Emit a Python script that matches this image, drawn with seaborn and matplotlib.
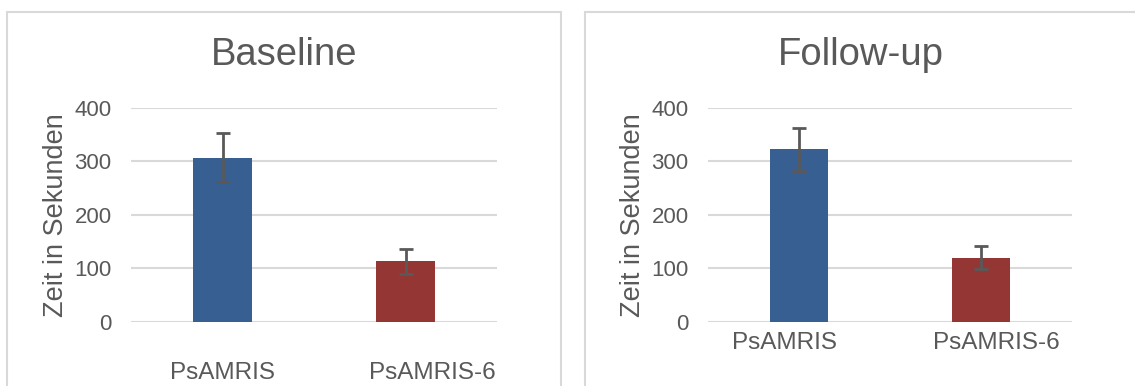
import numpy as np
import pandas as pd
import matplotlib
matplotlib.use("Agg")
import matplotlib.pyplot as plt
import matplotlib.transforms as mtransforms
from matplotlib.patches import Rectangle
import seaborn as sns

# Chart data
groups = ["PsAMRIS", "PsAMRIS-6"]
baseline_mean = [307, 113]
baseline_err = [45, 24]
followup_mean = [322, 120]
followup_err = [40, 21]
panel_titles = ["Baseline", "Follow-up"]

bar_colors = ["#375F92", "#943634"]
grey_txt = "#595959"
grid_col = "#D9D9D9"

sns.set_theme(style="white")
plt.rcParams['font.family'] = ['Liberation Sans', 'DejaVu Sans']

W, H = 1135, 386
fig = plt.figure(figsize=(W / 100, H / 100), dpi=100)

# panel frames (in pixel coords -> figure fractions)
def px_rect(x0, y0, x1, y1):
    return [x0 / W, 1 - y1 / H, (x1 - x0) / W, (y1 - y0) / H]

for x0, x1 in [(7, 561), (585, 1160)]:
    r = px_rect(x0, 12, x1, 420)
    fig.patches.append(Rectangle((r[0], r[1]), r[2], r[3], transform=fig.transFigure,
                                 fill=False, edgecolor=grid_col, linewidth=1.5))

# (means, errors, axes x-range px, x label pad, title x, label shifts px)
panels = [
    (baseline_mean, baseline_err, (131, 497), 29, 284, (0, 27)),
    (followup_mean, followup_err, (708, 1072), 7, 861, (-14, 15)),
]

for i, (means, errs, (xa, xb), xpad, tx, shifts) in enumerate(panels):
    ax = fig.add_axes(px_rect(xa, 107.7, xb, 322))
    df = pd.DataFrame({"group": groups, "value": means})
    sns.barplot(data=df, x="group", y="value", hue="group", palette=bar_colors,
                width=0.32, legend=False, ax=ax, saturation=1, linewidth=0, zorder=3)
    ax.errorbar(np.arange(len(groups)), means, yerr=errs, fmt="none",
                ecolor=grey_txt, elinewidth=2, capsize=5, capthick=2, zorder=4)
    ax.set_ylim(0, 400)
    ax.set_xlim(-0.5, 1.5)
    ax.set_yticks([0, 100, 200, 300, 400])
    ax.yaxis.grid(True, color=grid_col, linewidth=1.5, zorder=0)
    ax.set_axisbelow(True)
    for s in ax.spines.values():
        s.set_visible(False)
    ax.set_xlabel("")
    ax.set_ylabel("Zeit in Sekunden", fontsize=19.5, color=grey_txt, labelpad=4)
    ax.tick_params(axis="y", labelsize=16, colors=grey_txt, length=0, pad=14)
    ax.tick_params(axis="x", labelsize=17.5, colors=grey_txt, length=0, pad=xpad)
    for lab, dx in zip(ax.get_xticklabels(), shifts):
        off = mtransforms.ScaledTranslation(dx / 100, 0, fig.dpi_scale_trans)
        lab.set_transform(lab.get_transform() + off)
    fig.text(tx / W, 1 - 55 / H, panel_titles[i], ha="center", va="center",
             fontsize=27.5, color=grey_txt)

fig.savefig("out.png", dpi=100, facecolor="white")
